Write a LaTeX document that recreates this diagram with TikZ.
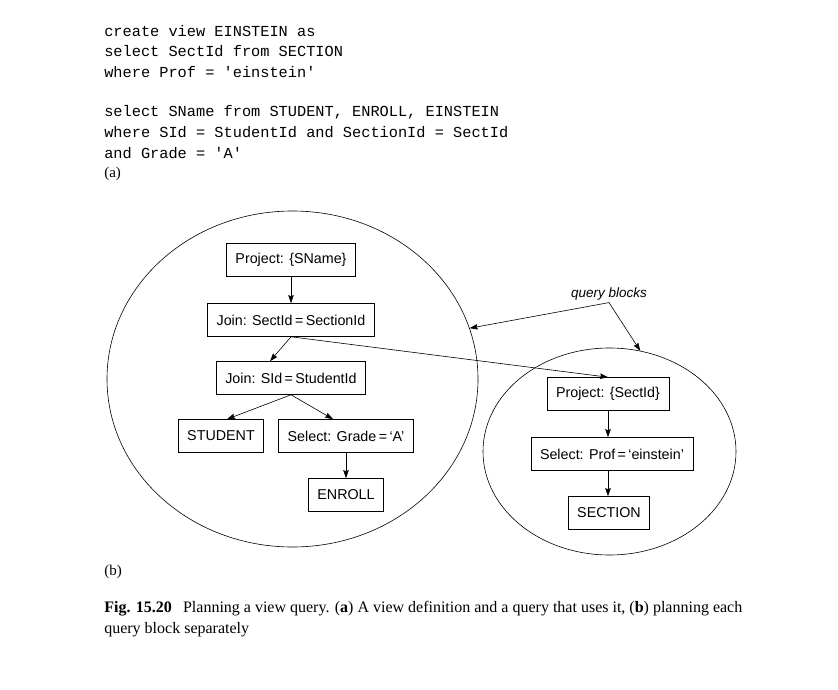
\documentclass[tikz,border=0pt]{standalone}
\usepackage{fontspec}
\setmainfont{Liberation Serif}
\setsansfont{Liberation Sans}
\setmonofont{Liberation Mono}
\usetikzlibrary{arrows.meta, positioning, calc, shapes.geometric}

\begin{document}
\begin{tikzpicture}[x=1pt, y=-1pt, op/.style={draw, line width=0.6pt, minimum height=33pt, inner xsep=9pt, font=\sffamily\fontsize{14.3}{16}\selectfont}, block/.style={ellipse, draw, line width=0.6pt, inner sep=0pt}, code/.style={anchor=base west, inner sep=0pt, font=\ttfamily\fontsize{15.3}{18}\selectfont}, serif/.style={anchor=base west, inner sep=0pt, font=\fontsize{16}{18}\selectfont}, ->, >={Stealth[length=8pt, width=5.5pt, inset=1pt]}, line width=0.6pt]
        \useasboundingbox (0,0) rectangle (838,690);
        % (a) the view and the query
        \node[code] (c1) at (104,37) {create view EINSTEIN as};
        \node[code] (c2) at (104,57) {select SectId from SECTION};
        \node[code] (c3) at (104,78) {where Prof = 'einstein'};
        \node[code] (c4) at (104,117) {select SName from STUDENT, ENROLL, EINSTEIN};
        \node[code] (c5) at (104,138) {where SId = StudentId and SectionId = SectId};
        \node[code] (c6) at (104,158) {and Grade = 'A'};
        \node[serif, font=\fontsize{15}{17}\selectfont] (la) at (104,178) {(a)};
        % (b) the two query blocks
        \node[block, minimum width=371pt, minimum height=336pt] (lblock) at (292.5,379) {};
        \node[block, minimum width=253pt, minimum height=207pt] (rblock) at (609.5,451.5) {};
        \node[op] (psname) at (291,260) {Project: \{SName\}};
        \node[op] (jsect) at (291,320) {Join: SectId\,=\,SectionId};
        \node[op] (jsid) at (291,378) {Join: SId\,=\,StudentId};
        \node[op] (student) at (221,436) {STUDENT};
        \node[op] (sgrade) at (346,436) {Select: Grade\,=\,‘A’};
        \node[op] (enroll) at (346,495) {ENROLL};
        \node[op] (psect) at (608,394) {Project: \{SectId\}};
        \node[op] (sprof) at (612,454) {Select: Prof\,=\,‘einstein’};
        \node[op] (section) at (609,513) {SECTION};
        \node[inner sep=2pt, font=\sffamily\itshape\fontsize{13.5}{15}\selectfont] (qb) at (609,294) {query blocks};
        \path (psname) edge (jsect);
        \path (jsect.south) edge ([xshift=-21pt]jsid.north);
        \path (jsect.south) edge (psect.north);
        \path (jsid.south) edge ([xshift=6pt]student.north);
        \path (jsid.south) edge ([xshift=-13pt]sgrade.north);
        \path (sgrade) edge (enroll);
        \path (psect) edge (psect |- sprof.north);
        \path (sprof.south -| psect) edge (psect |- section.north);
        \path (qb.south) edge (lblock.16.7);
        \path (qb.south) edge (rblock.73.8);
        % caption
        \node[serif, font=\fontsize{15}{17}\selectfont] (lb) at (104,575) {(b)};
        \node[serif] (cap1) at (104,612) {\textbf{Fig. 15.20}\hspace{0.7em}Planning a view query. (\textbf{a}) A view definition and a query that uses it, (\textbf{b}) planning each};
        \node[serif] (cap2) at (104,633) {query block separately};
    \end{tikzpicture}
\end{document}
